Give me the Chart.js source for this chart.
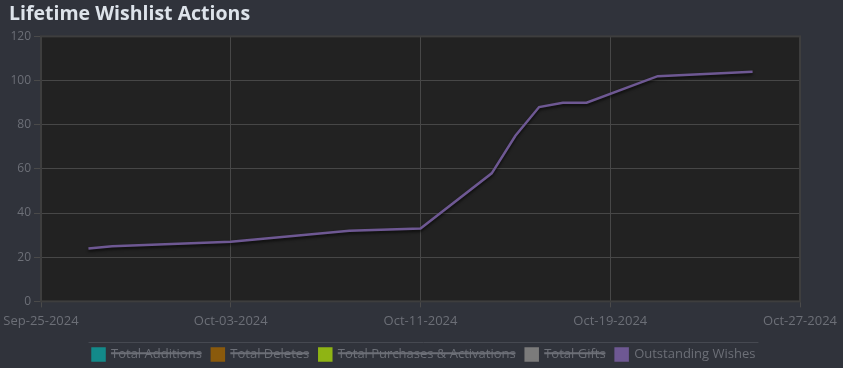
<!DOCTYPE html>
<html>
<head>
<meta charset="utf-8">
<title>Lifetime Wishlist Actions</title>
<script src="https://cdn.jsdelivr.net/npm/chart.js@4"></script>
<style>
    html, body { margin: 0; padding: 0; background: #30333b; }
    #wrap { position: relative; width: 843px; height: 368px; }
</style>
</head>
<body>
<div id="wrap"><canvas id="chart"></canvas></div>
<script>
// Wishlist data
const startDate = '2024-09-25';
const dates = ['2024-09-27', '2024-09-28', '2024-10-03', '2024-10-08', '2024-10-11', '2024-10-14',
               '2024-10-15', '2024-10-16', '2024-10-17', '2024-10-18', '2024-10-21', '2024-10-25'];
const outstandingWishes = [24, 25, 27, 32, 33, 58, 75, 88, 90, 90, 102, 104];
const seriesNames = ['Total Additions', 'Total Deletes', 'Total Purchases & Activations', 'Total Gifts', 'Outstanding Wishes'];
const seriesColors = ['#138a8a', '#8a5a0c', '#8fb414', '#7b7b7b', '#6e5893'];
const yTicks = [0, 20, 40, 60, 80, 100, 120];
const xTickStep = 8;   // days between date labels
const xTickCount = 4;  // Sep-25 .. Oct-27

const months = ['Jan','Feb','Mar','Apr','May','Jun','Jul','Aug','Sep','Oct','Nov','Dec'];
const dayMs = 86400000;
const t0 = Date.parse(startDate);
const dayOf = d => (Date.parse(d) - t0) / dayMs;
const fmtDay = n => {
    const d = new Date(t0 + n * dayMs);
    return months[d.getUTCMonth()] + '-' + String(d.getUTCDate()).padStart(2, '0') + '-' + d.getUTCFullYear();
};

const datasets = seriesNames.map((name, i) => ({
    label: name,
    data: i === 4 ? dates.map((d, k) => ({x: dayOf(d), y: outstandingWishes[k]})) : [],
    borderColor: seriesColors[i],
    backgroundColor: seriesColors[i],
    borderWidth: 2.5,
    pointRadius: 0,
    tension: 0,
    hidden: i !== 4,
}));

// dark plot area, border and legend divider
const framePlugin = {
    id: 'frame',
    beforeDraw(chart) {
        const {ctx, chartArea: a} = chart;
        ctx.save();
        ctx.fillStyle = '#222222';
        ctx.fillRect(a.left, a.top, a.right - a.left, a.bottom - a.top);
        ctx.restore();
    },
    beforeDatasetsDraw(chart) {
        const ctx = chart.ctx;
        ctx.save();
        ctx.shadowColor = 'rgba(0,0,0,0.7)';
        ctx.shadowOffsetY = 2;
        ctx.shadowBlur = 3;
    },
    afterDatasetsDraw(chart) {
        chart.ctx.restore();
        const {ctx, chartArea: a} = chart;
        ctx.save();
        ctx.strokeStyle = '#3e3e3e';
        ctx.lineWidth = 2;
        ctx.strokeRect(a.left, a.top, a.right - a.left, a.bottom - a.top);
        ctx.restore();
    },
    afterDraw(chart) {
        const lg = chart.legend;
        if (!lg || !lg.legendHitBoxes.length) return;
        const boxes = lg.legendHitBoxes;
        const left = Math.min(...boxes.map(b => b.left)) - 4;
        const right = Math.max(...boxes.map(b => b.left + b.width)) + 3;
        const y = Math.min(...boxes.map(b => b.top)) - 6;
        const ctx = chart.ctx;
        ctx.save();
        ctx.strokeStyle = '#464951';
        ctx.lineWidth = 1;
        ctx.beginPath();
        ctx.moveTo(left, y + 0.5);
        ctx.lineTo(right, y + 0.5);
        ctx.stroke();
        ctx.restore();
    }
};

const ctx = document.getElementById('chart').getContext('2d');
new Chart(ctx, {
    type: 'line',
    data: {datasets},
    plugins: [framePlugin],
    options: {
        responsive: true,
        maintainAspectRatio: false,
        animation: false,
        layout: {padding: {left: 9, right: 4, top: 0, bottom: -3}},
        plugins: {
            title: {
                display: true,
                text: 'Lifetime Wishlist Actions',
                align: 'start',
                color: '#dde3ea',
                font: {family: 'Open Sans', size: 19.5, weight: 'bold'},
                padding: {top: 3, bottom: 10},
            },
            legend: {
                position: 'bottom',
                labels: {
                    color: '#6c6f77',
                    font: {family: 'Open Sans', size: 13},
                    boxWidth: 12,
                    boxHeight: 12,
                    padding: 10,
                },
            },
            tooltip: {enabled: false},
        },
        scales: {
            x: {
                type: 'linear',
                min: 0,
                max: xTickStep * xTickCount,
                afterBuildTicks: axis => {
                    axis.ticks = Array.from({length: xTickCount + 1}, (_, i) => ({value: i * xTickStep}));
                },
                afterFit: axis => { axis.height += 3; axis.paddingLeft = 0; },
                ticks: {
                    color: '#6c6f77',
                    font: {family: 'Open Sans', size: 13},
                    maxRotation: 0,
                    padding: 6,
                    callback: v => fmtDay(v),
                },
                grid: {color: '#474747', tickColor: '#4a4a4a', tickLength: 6},
                border: {display: false},
            },
            y: {
                min: yTicks[0],
                max: yTicks[yTicks.length - 1],
                afterFit: axis => { axis.width = 32; },
                ticks: {
                    stepSize: 20,
                    color: '#6c6f77',
                    font: {family: 'Open Sans', size: 12},
                    padding: 3,
                },
                grid: {color: '#474747', tickColor: '#4a4a4a', tickLength: 7},
                border: {display: false},
            },
        },
    },
});
</script>
</body>
</html>
